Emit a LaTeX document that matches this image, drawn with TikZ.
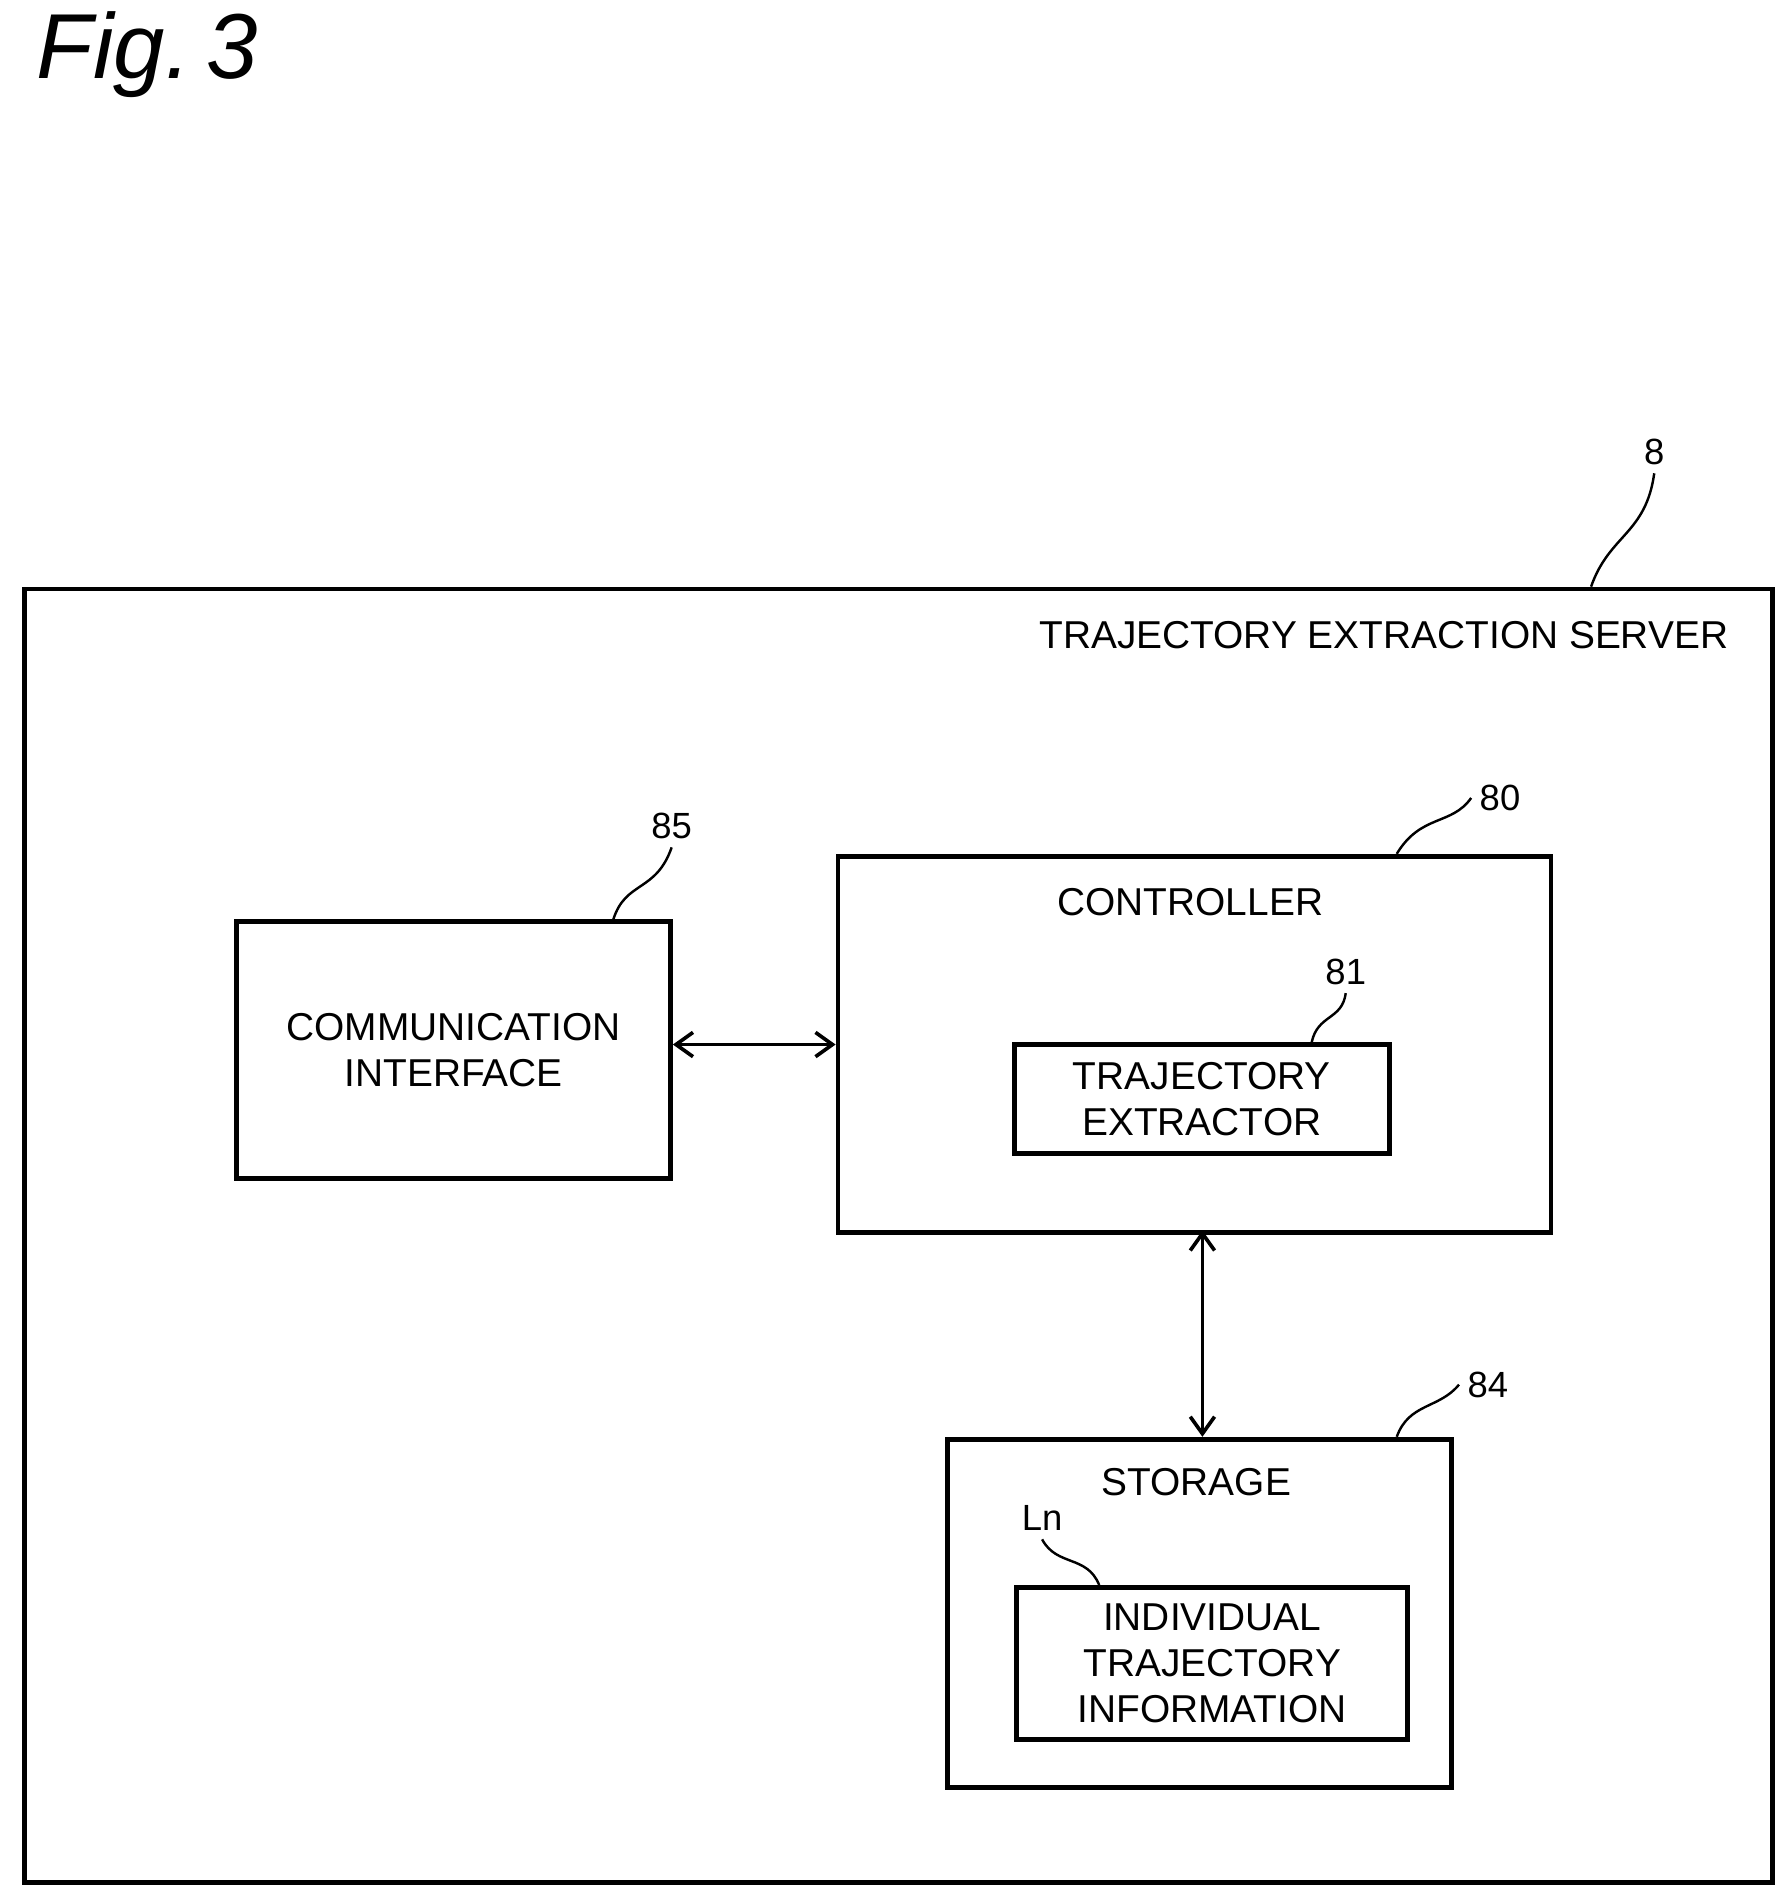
\documentclass[tikz,border=0pt]{standalone}
\usepackage{fontspec}
\setmainfont{Liberation Sans}
\usetikzlibrary{arrows.meta}
\begin{document}
\begin{tikzpicture}[x=0.5pt,y=-0.5pt,
  box/.style={draw,line width=2pt},
  lbl/.style={font=\fontsize{16}{19}\selectfont,align=center},
  num/.style={font=\fontsize{15}{18}\selectfont},
  lead/.style={line width=1pt},
  arr/.style={line width=1.5pt,{Straight Barb[length=7pt,width=10pt]}-{Straight Barb[length=7pt,width=10pt]}}]
\useasboundingbox (0,0) rectangle (1474,1566);
\node[font=\itshape\fontsize{38}{44}\selectfont,anchor=west,inner sep=0pt] (fig) at (30,45) {Fig.\,3};
\node[box,minimum width=1439pt/2,minimum height=1065pt/2,anchor=north west] (srv) at (18,483) {};
\node[lbl,anchor=east] (srvl) at (1430,523) {TRAJECTORY EXTRACTION SERVER};
\node[num] (n8) at (1362,372) {8};
\coordinate (s8) at (1310,483);
\draw[lead] (s8) .. controls (1325,440) and (1355,440) .. (n8.south);
\node[box,lbl,minimum width=357pt/2,minimum height=211pt/2,anchor=north west] (ci) at (193,757) {};
\node[lbl] at (ci.center) {COMMUNICATION\\INTERFACE};
\node[num] (n85) at (553,680) {85};
\draw[lead] (505,757) .. controls (515,725) and (540,735) .. (n85.south);
\node[box,minimum width=587pt/2,minimum height=310pt/2,anchor=north west] (ctl) at (688,703) {};
\node[lbl] (ctll) at (980,743) {CONTROLLER};
\node[num] (n80) at (1235,657) {80};
\draw[lead] (1150,703) .. controls (1170,670) and (1195,680) .. (n80.west);
\node[box,minimum width=309pt/2,minimum height=90pt/2,anchor=north west] (te) at (833,858) {};
\node[lbl] at (te.center) {TRAJECTORY\\EXTRACTOR};
\node[num] (n81) at (1108,800) {81};
\draw[lead] (1080,858) .. controls (1085,835) and (1105,840) .. (n81.south);
\node[box,minimum width=415pt/2,minimum height=287pt/2,anchor=north west] (st) at (778,1183) {};
\node[lbl] (stl) at (985,1220) {STORAGE};
\node[num] (n84) at (1225,1140) {84};
\draw[lead] (1150,1183) .. controls (1160,1155) and (1185,1160) .. (n84.west);
\node[box,minimum width=322pt/2,minimum height=125pt/2,anchor=north west] (ind) at (835,1305) {};
\node[lbl] at (ind.center) {INDIVIDUAL\\TRAJECTORY\\INFORMATION};
\node[num] (ln) at (858,1250) {Ln};
\draw[lead] (ln.south) .. controls (870,1290) and (895,1280) .. (905,1305);
\draw[arr] (ci.east |- 0,860) -- (ctl.west |- 0,860);
\draw[arr] (990,1013) -- (990,1183);
\end{tikzpicture}
\end{document}
